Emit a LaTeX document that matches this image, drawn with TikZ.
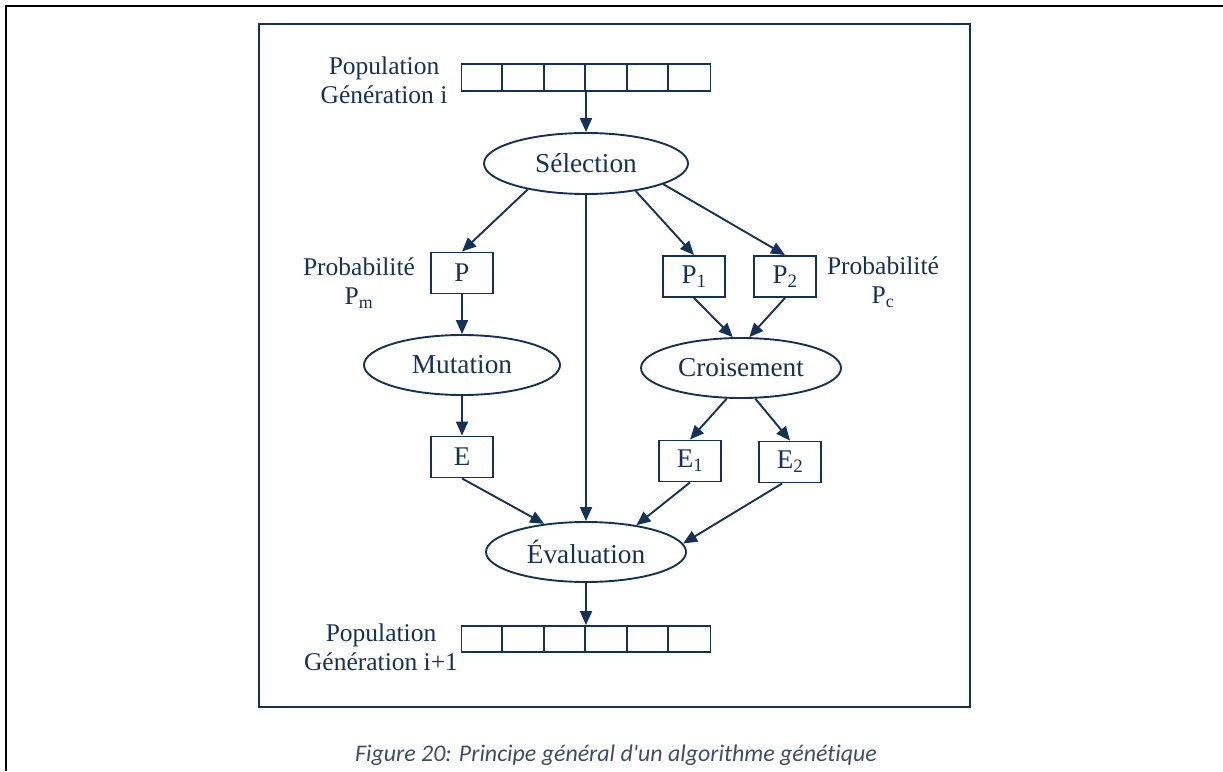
\documentclass[tikz,border=0pt]{standalone}
\usepackage{fontspec}
\setmainfont{Liberation Serif}
\newfontfamily\capfont[Ligatures=NoCommon]{Carlito}
\usepackage{xcolor}
\usetikzlibrary{shapes.geometric,arrows.meta}
\definecolor{navy}{RGB}{20,50,88}
\definecolor{capgray}{RGB}{62,78,100}

\begin{document}
\begin{tikzpicture}[x=1pt,y=-1pt,line width=1.9pt,
  oval/.style={ellipse,draw=navy,minimum width=200pt,minimum height=60pt,inner sep=0pt,text=navy,font=\fontsize{27.3}{30}\selectfont},
  box/.style={rectangle,draw=navy,minimum width=62pt,minimum height=41pt,inner sep=0pt,text=navy,font=\fontsize{27}{30}\selectfont},
  lbl/.style={align=center,text=navy,font=\fontsize{25.5}{29}\selectfont},
  pop/.style={rectangle,draw=navy,minimum width=249pt,minimum height=27pt,inner sep=0pt},
  arr/.style={draw=navy,-{Triangle[length=14pt,width=12pt]}}]
\useasboundingbox (0,0) rectangle (1223,771);
\draw[black,line width=2.5pt] (6,771) -- (6,6) -- (1223,6);
\draw[navy,line width=2.2pt] (259,24) rectangle (970,707);

\node[pop] (popi) at (586,77.5) {};
\node[pop,minimum height=26pt] (popn) at (586,639) {};
\foreach \k in {1,...,5} {
  \draw[navy] ([xshift=\k*41.5pt]popi.north west) -- ([xshift=\k*41.5pt]popi.south west);
  \draw[navy] ([xshift=\k*41.5pt]popn.north west) -- ([xshift=\k*41.5pt]popn.south west);
}
\node[lbl] (txti) at (384,80) {Population\\Génération i};
\node[lbl] (txtn) at (381,647) {Population\\Génération i+1};

\node[oval,minimum width=204pt,minimum height=61pt] (sel) at (586,163.5) {Sélection};
\node[oval,minimum width=196pt] (mut) at (462,365) {Mutation};
\node[oval] (cro) at (741,368) {Croisement};
\node[oval] (eval) at (586,552) {Évaluation};

\node[box] (P) at (462,273) {P};
\node[box] (P1) at (694,276.5) {P\textsubscript{1}};
\node[box] (P2) at (785,276.5) {P\textsubscript{2}};
\node[box] (E) at (462,457) {E};
\node[box] (E1) at (690,461) {E\textsubscript{1}};
\node[box] (E2) at (790,462) {E\textsubscript{2}};

\node[lbl] (pm) at (359,283) {Probabilité\\P\textsubscript{m}};
\node[lbl] (pc) at (883,282) {Probabilité\\P\textsubscript{c}};

\draw[arr] (popi.south) -- (sel.north);
\draw[arr] (sel.204) -- (P.north);
\draw[arr] (sel.south) -- (eval.north);
\draw[arr] (sel.331) -- (P1.north);
\draw[arr] (sel.345) -- (P2.north);
\draw[arr] (P.south) -- (mut.north);
\draw[arr] (P1.south) -- (cro.105);
\draw[arr] (P2.south) -- (cro.75);
\draw[arr] (mut.south) -- (E.north);
\draw[arr] (cro.245) -- (E1.north);
\draw[arr] (cro.295) -- (E2.north);
\draw[arr] (E.south) -- (eval.146);
\draw[arr] (E1.south) -- (eval.28);
\draw[arr] (E2.250) -- (eval.5);
\draw[arr] (eval.south) -- (popn.north);

\node[text=capgray,font=\capfont\itshape\fontsize{23.9}{26}\selectfont] (cap) at (616,755) {Figure 20: Principe général d'un algorithme génétique};
\end{tikzpicture}
\end{document}
